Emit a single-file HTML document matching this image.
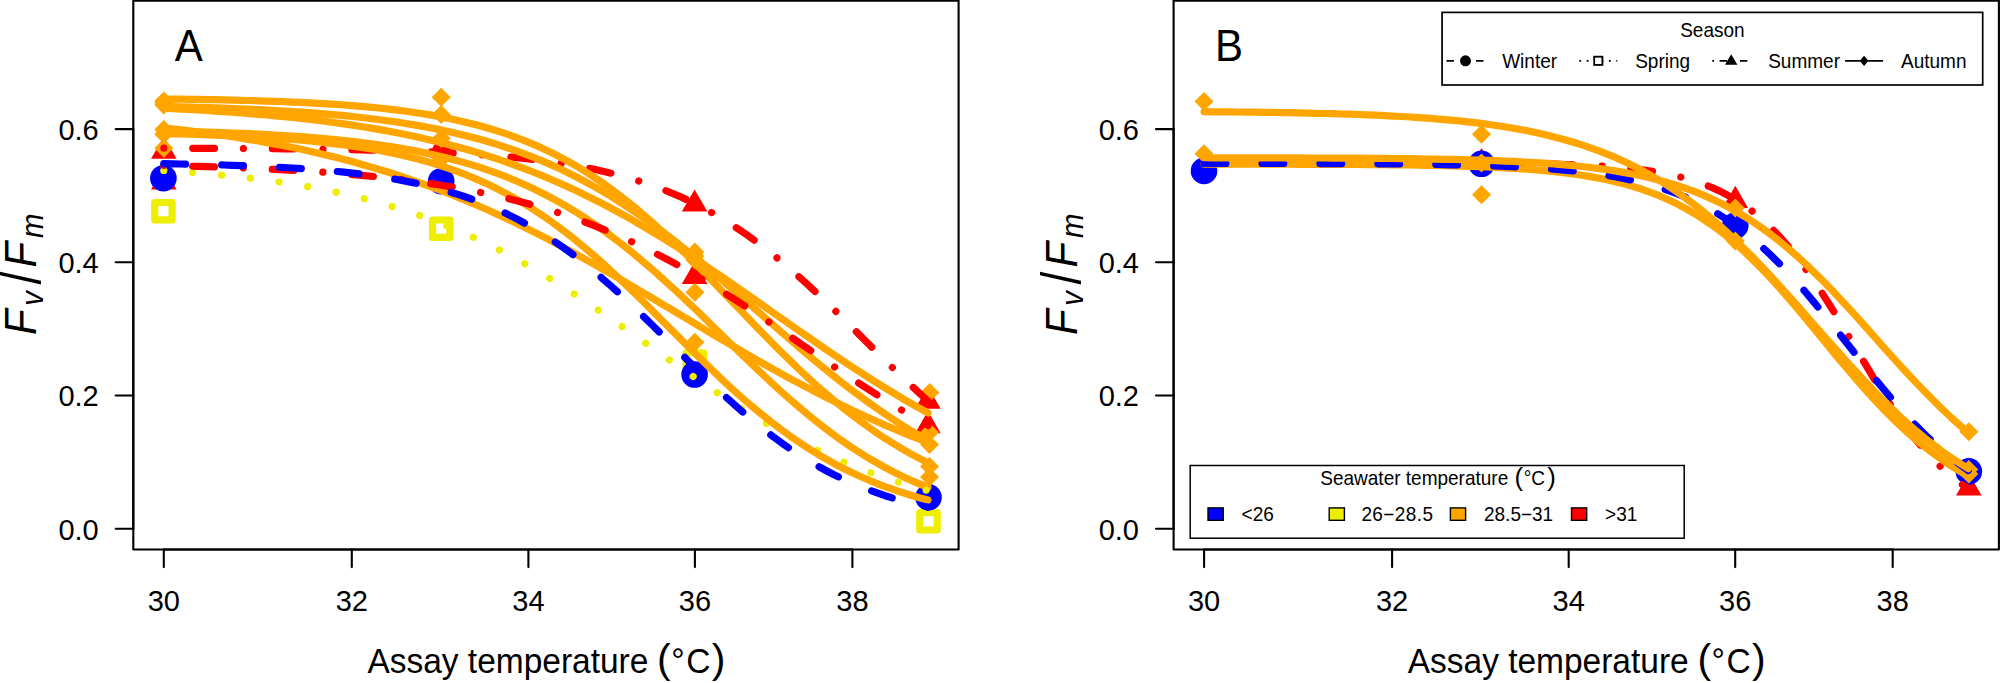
<!DOCTYPE html>
<html><head><meta charset="utf-8"><title>Fv/Fm thermal performance</title>
<style>html,body{margin:0;padding:0;background:#fff;}body{width:2000px;height:683px;overflow:hidden;}svg{display:block;}text{font-family:"Liberation Sans",sans-serif;fill:#000;}</style></head><body>
<svg width="2000" height="683" viewBox="0 0 2000 683">
<rect x="0" y="0" width="2000" height="683" fill="#fff"/>
<g id="panelA">
<g stroke="#000" stroke-width="2.1" fill="none" stroke-linecap="round">
<rect x="133.3" y="0.6" width="825.3" height="548.9" stroke-linejoin="round"/>
<path d="M163.8,549.5 L852.4,549.5"/>
<path d="M163.8,549.5 v17.6"/>
<path d="M351.8,549.5 v17.6"/>
<path d="M528.4,549.5 v17.6"/>
<path d="M694.9,549.5 v17.6"/>
<path d="M852.4,549.5 v17.6"/>
<path d="M133.3,528.7 L133.3,129.1"/>
<path d="M133.3,528.7 h-17.6"/>
<path d="M133.3,395.5 h-17.6"/>
<path d="M133.3,262.3 h-17.6"/>
<path d="M133.3,129.1 h-17.6"/>
</g>
<text transform="translate(163.8 611.2) scale(1 1.04)" font-size="29" text-anchor="middle">30</text>
<text transform="translate(351.8 611.2) scale(1 1.04)" font-size="29" text-anchor="middle">32</text>
<text transform="translate(528.4 611.2) scale(1 1.04)" font-size="29" text-anchor="middle">34</text>
<text transform="translate(694.9 611.2) scale(1 1.04)" font-size="29" text-anchor="middle">36</text>
<text transform="translate(852.4 611.2) scale(1 1.04)" font-size="29" text-anchor="middle">38</text>
<text transform="translate(98.7 539.6) scale(1 1.04)" font-size="29" text-anchor="end">0.0</text>
<text transform="translate(98.7 406.4) scale(1 1.04)" font-size="29" text-anchor="end">0.2</text>
<text transform="translate(98.7 273.2) scale(1 1.04)" font-size="29" text-anchor="end">0.4</text>
<text transform="translate(98.7 140.0) scale(1 1.04)" font-size="29" text-anchor="end">0.6</text>
<text transform="translate(174.8 61.2) scale(1 1.04)" font-size="42">A</text>
<text transform="translate(367.4 673.0) scale(1 1.04)" font-size="33.5">Assay temperature</text>
<text x="657.1" y="672.8" font-size="41">(</text>
<text transform="translate(671.3 673.0) scale(1 1.04)" font-size="33.5">°</text>
<text transform="translate(686.3 673.0) scale(1 1.04)" font-size="33.5">C</text>
<text x="711.7" y="672.8" font-size="41">)</text>
<g transform="translate(36.3,333.6) rotate(-90)" font-style="italic"><text transform="translate(-1.5 0.0) scale(1 1.04)" font-size="42">F</text><text transform="translate(27.8 6.6) scale(1 1.04)" font-size="29.4">v</text><text transform="translate(66.0 0.0) scale(1 1.04)" font-size="42">F</text><text transform="translate(95.6 6.6) scale(1 1.04)" font-size="29.4">m</text><text transform="translate(49.2 3.8) scale(1 1.2)" font-size="46" font-style="normal">/</text></g>
<polygon points="163.8,136.6 176.6,158.8 151.0,158.8" fill="#FF0000"/>
<polygon points="163.8,167.2 176.6,189.4 151.0,189.4" fill="#FF0000"/>
<polygon points="441.2,132.7 454.0,154.9 428.4,154.9" fill="#FF0000"/>
<polygon points="441.2,166.8 454.0,189.0 428.4,189.0" fill="#FF0000"/>
<polygon points="694.6,189.4 707.4,211.6 681.8,211.6" fill="#FF0000"/>
<polygon points="694.6,261.7 707.4,283.9 681.8,283.9" fill="#FF0000"/>
<polygon points="927.9,386.6 940.7,408.8 915.1,408.8" fill="#FF0000"/>
<polygon points="927.9,411.1 940.7,433.3 915.1,433.3" fill="#FF0000"/>
<rect x="154.7" y="202.5" width="17.4" height="17.4" fill="none" stroke="#EEEE00" stroke-width="7.2" stroke-linejoin="round"/>
<rect x="432.5" y="220.0" width="17.4" height="17.4" fill="none" stroke="#EEEE00" stroke-width="7.2" stroke-linejoin="round"/>
<rect x="686.2" y="352.9" width="17.4" height="17.4" fill="none" stroke="#EEEE00" stroke-width="7.2" stroke-linejoin="round"/>
<rect x="919.8" y="512.6" width="17.4" height="17.4" fill="none" stroke="#EEEE00" stroke-width="7.2" stroke-linejoin="round"/>
<circle cx="163.4" cy="178.2" r="13.3" fill="#0000FF"/>
<circle cx="441.2" cy="181.2" r="13.3" fill="#0000FF"/>
<circle cx="694.6" cy="374.5" r="13.3" fill="#0000FF"/>
<circle cx="928.5" cy="497.3" r="13.3" fill="#0000FF"/>
<polygon points="154.3,101.1 163.8,91.6 173.3,101.1 163.8,110.6" fill="#FFA500"/>
<polygon points="154.3,104.9 163.8,95.4 173.3,104.9 163.8,114.4" fill="#FFA500"/>
<polygon points="154.3,103.0 163.8,93.5 173.3,103.0 163.8,112.5" fill="#FFA500"/>
<polygon points="154.3,129.6 163.8,120.1 173.3,129.6 163.8,139.1" fill="#FFA500"/>
<polygon points="154.3,134.3 163.8,124.8 173.3,134.3 163.8,143.8" fill="#FFA500"/>
<polygon points="154.3,148.3 163.8,138.8 173.3,148.3 163.8,157.8" fill="#FFA500"/>
<polygon points="431.7,97.2 441.2,87.7 450.7,97.2 441.2,106.7" fill="#FFA500"/>
<polygon points="431.7,114.4 441.2,104.9 450.7,114.4 441.2,123.9" fill="#FFA500"/>
<polygon points="431.7,138.5 441.2,129.0 450.7,138.5 441.2,148.0" fill="#FFA500"/>
<polygon points="431.7,159.0 441.2,149.5 450.7,159.0 441.2,168.5" fill="#FFA500"/>
<polygon points="685.4,252.0 694.9,242.5 704.4,252.0 694.9,261.5" fill="#FFA500"/>
<polygon points="685.4,260.0 694.9,250.5 704.4,260.0 694.9,269.5" fill="#FFA500"/>
<polygon points="685.4,292.2 694.9,282.7 704.4,292.2 694.9,301.7" fill="#FFA500"/>
<polygon points="685.4,342.3 694.9,332.8 704.4,342.3 694.9,351.8" fill="#FFA500"/>
<polygon points="685.4,256.0 694.9,246.5 704.4,256.0 694.9,265.5" fill="#FFA500"/>
<polygon points="920.3,392.6 929.8,383.1 939.3,392.6 929.8,402.1" fill="#FFA500"/>
<polygon points="920.0,432.2 929.5,422.7 939.0,432.2 929.5,441.7" fill="#FFA500"/>
<polygon points="920.0,444.6 929.5,435.1 939.0,444.6 929.5,454.1" fill="#FFA500"/>
<polygon points="920.0,466.6 929.5,457.1 939.0,466.6 929.5,476.1" fill="#FFA500"/>
<polygon points="920.0,477.1 929.5,467.6 939.0,477.1 929.5,486.6" fill="#FFA500"/>
<path d="M163.8,148.2 L172.4,148.2 L181.0,148.2 L189.6,148.3 L198.1,148.3 L206.7,148.3 L215.3,148.4 L223.9,148.4 L232.5,148.5 L241.1,148.5 L249.7,148.6 L258.2,148.6 L266.8,148.7 L275.4,148.7 L284.0,148.8 L292.6,148.9 L301.2,149.0 L309.8,149.1 L318.3,149.2 L326.9,149.3 L335.5,149.4 L344.1,149.6 L352.7,149.7 L361.3,149.9 L369.8,150.1 L378.4,150.3 L387.0,150.5 L395.6,150.7 L404.2,151.0 L412.8,151.3 L421.4,151.6 L429.9,151.9 L438.5,152.3 L447.1,152.7 L455.7,153.2 L464.3,153.7 L472.9,154.2 L481.5,154.8 L490.0,155.4 L498.6,156.1 L507.2,156.8 L515.8,157.6 L524.4,158.5 L533.0,159.5 L541.6,160.6 L550.1,161.7 L558.7,163.0 L567.3,164.3 L575.9,165.8 L584.5,167.4 L593.1,169.1 L601.7,171.0 L610.2,173.0 L618.8,175.2 L627.4,177.6 L636.0,180.1 L644.6,182.9 L653.2,185.9 L661.8,189.0 L670.3,192.5 L678.9,196.1 L687.5,200.1 L696.1,204.3 L704.7,208.7 L713.3,213.5 L721.9,218.5 L730.4,223.8 L739.0,229.5 L747.6,235.4 L756.2,241.6 L764.8,248.1 L773.4,254.9 L781.9,262.0 L790.5,269.3 L799.1,276.9 L807.7,284.7 L816.3,292.7 L824.9,300.8 L833.5,309.1 L842.0,317.6 L850.6,326.1 L859.2,334.6 L867.8,343.2 L876.4,351.8 L885.0,360.3 L893.6,368.7 L902.1,377.0 L910.7,385.1 L919.3,393.1 L927.9,400.9" fill="none" stroke="#FF0000" stroke-width="7.2" stroke-linecap="round" stroke-linejoin="round" stroke-dasharray="0.01 28.91 21.76 28.92"/>
<path d="M163.8,99.0 L172.4,99.1 L181.0,99.2 L189.6,99.3 L198.1,99.4 L206.7,99.6 L215.3,99.7 L223.9,99.9 L232.5,100.1 L241.1,100.3 L249.7,100.5 L258.3,100.8 L266.8,101.1 L275.4,101.4 L284.0,101.7 L292.6,102.1 L301.2,102.4 L309.8,102.9 L318.4,103.3 L326.9,103.8 L335.5,104.4 L344.1,105.0 L352.7,105.7 L361.3,106.4 L369.9,107.2 L378.5,108.0 L387.0,108.9 L395.6,109.9 L404.2,111.0 L412.8,112.2 L421.4,113.5 L430.0,114.9 L438.6,116.5 L447.2,118.1 L455.7,119.9 L464.3,121.9 L472.9,124.0 L481.5,126.3 L490.1,128.7 L498.7,131.4 L507.3,134.2 L515.8,137.3 L524.4,140.6 L533.0,144.1 L541.6,147.9 L550.2,152.0 L558.8,156.3 L567.4,160.9 L576.0,165.8 L584.5,171.0 L593.1,176.5 L601.7,182.3 L610.3,188.4 L618.9,194.8 L627.5,201.5 L636.1,208.4 L644.6,215.7 L653.2,223.3 L661.8,231.1 L670.4,239.1 L679.0,247.3 L687.6,255.8 L696.2,264.4 L704.8,273.1 L713.3,282.0 L721.9,290.9 L730.5,299.9 L739.1,308.8 L747.7,317.8 L756.3,326.7 L764.9,335.5 L773.4,344.2 L782.0,352.8 L790.6,361.2 L799.2,369.5 L807.8,377.5 L816.4,385.3 L825.0,392.8 L833.5,400.1 L842.1,407.2 L850.7,414.0 L859.3,420.5 L867.9,426.7 L876.5,432.7 L885.1,438.4 L893.7,443.8 L902.2,448.9 L910.8,453.8 L919.4,458.4 L928.0,462.8" fill="none" stroke="#FFA500" stroke-width="7.2" stroke-linecap="round" stroke-linejoin="round"/>
<path d="M163.8,106.5 L172.4,106.7 L181.0,106.9 L189.6,107.1 L198.1,107.3 L206.7,107.6 L215.3,107.9 L223.9,108.2 L232.5,108.5 L241.1,108.8 L249.7,109.2 L258.3,109.6 L266.8,110.0 L275.4,110.5 L284.0,111.0 L292.6,111.5 L301.2,112.1 L309.8,112.7 L318.4,113.4 L326.9,114.1 L335.5,114.8 L344.1,115.7 L352.7,116.5 L361.3,117.5 L369.9,118.5 L378.5,119.5 L387.0,120.7 L395.6,121.9 L404.2,123.2 L412.8,124.6 L421.4,126.1 L430.0,127.7 L438.6,129.4 L447.2,131.3 L455.7,133.2 L464.3,135.3 L472.9,137.5 L481.5,139.8 L490.1,142.3 L498.7,144.9 L507.3,147.8 L515.8,150.7 L524.4,153.9 L533.0,157.2 L541.6,160.7 L550.2,164.4 L558.8,168.3 L567.4,172.4 L576.0,176.7 L584.5,181.2 L593.1,185.9 L601.7,190.9 L610.3,196.0 L618.9,201.4 L627.5,206.9 L636.1,212.7 L644.6,218.7 L653.2,224.8 L661.8,231.2 L670.4,237.7 L679.0,244.4 L687.6,251.3 L696.2,258.3 L704.8,265.5 L713.3,272.7 L721.9,280.0 L730.5,287.5 L739.1,295.0 L747.7,302.5 L756.3,310.0 L764.9,317.6 L773.4,325.1 L782.0,332.6 L790.6,340.1 L799.2,347.4 L807.8,354.7 L816.4,361.9 L825.0,369.0 L833.5,375.9 L842.1,382.7 L850.7,389.3 L859.3,395.7 L867.9,402.0 L876.5,408.1 L885.1,414.0 L893.7,419.7 L902.2,425.2 L910.8,430.5 L919.4,435.6 L928.0,440.5" fill="none" stroke="#FFA500" stroke-width="7.2" stroke-linecap="round" stroke-linejoin="round"/>
<path d="M163.8,108.2 L172.4,108.7 L181.0,109.1 L189.6,109.5 L198.1,110.0 L206.7,110.5 L215.3,111.1 L223.9,111.6 L232.5,112.2 L241.1,112.9 L249.7,113.6 L258.3,114.3 L266.8,115.0 L275.4,115.8 L284.0,116.6 L292.6,117.5 L301.2,118.4 L309.8,119.4 L318.4,120.4 L326.9,121.5 L335.5,122.7 L344.1,123.9 L352.7,125.1 L361.3,126.5 L369.9,127.9 L378.5,129.4 L387.0,130.9 L395.6,132.5 L404.2,134.2 L412.8,136.0 L421.4,137.9 L430.0,139.9 L438.6,142.0 L447.2,144.2 L455.7,146.4 L464.3,148.8 L472.9,151.3 L481.5,153.9 L490.1,156.6 L498.7,159.4 L507.3,162.4 L515.8,165.5 L524.4,168.7 L533.0,172.0 L541.6,175.4 L550.2,179.0 L558.8,182.7 L567.4,186.6 L576.0,190.6 L584.5,194.7 L593.1,198.9 L601.7,203.3 L610.3,207.8 L618.9,212.5 L627.5,217.2 L636.1,222.1 L644.6,227.1 L653.2,232.3 L661.8,237.5 L670.4,242.9 L679.0,248.3 L687.6,253.9 L696.2,259.5 L704.8,265.2 L713.3,271.0 L721.9,276.8 L730.5,282.7 L739.1,288.7 L747.7,294.7 L756.3,300.7 L764.9,306.7 L773.4,312.8 L782.0,318.8 L790.6,324.9 L799.2,330.9 L807.8,336.8 L816.4,342.8 L825.0,348.7 L833.5,354.5 L842.1,360.3 L850.7,366.0 L859.3,371.6 L867.9,377.1 L876.5,382.6 L885.1,387.9 L893.7,393.1 L902.2,398.3 L910.8,403.3 L919.4,408.2 L928.0,412.9" fill="none" stroke="#FFA500" stroke-width="7.2" stroke-linecap="round" stroke-linejoin="round"/>
<path d="M163.8,131.0 L172.4,131.2 L181.0,131.4 L189.6,131.6 L198.1,131.9 L206.7,132.1 L215.3,132.4 L223.9,132.7 L232.5,133.0 L241.1,133.4 L249.7,133.7 L258.3,134.1 L266.8,134.6 L275.4,135.1 L284.0,135.6 L292.6,136.1 L301.2,136.7 L309.8,137.4 L318.4,138.1 L326.9,138.8 L335.5,139.6 L344.1,140.5 L352.7,141.4 L361.3,142.5 L369.9,143.6 L378.5,144.7 L387.0,146.0 L395.6,147.4 L404.2,148.8 L412.8,150.4 L421.4,152.1 L430.0,153.9 L438.6,155.9 L447.2,158.0 L455.7,160.2 L464.3,162.6 L472.9,165.1 L481.5,167.9 L490.1,170.8 L498.7,173.9 L507.3,177.2 L515.8,180.8 L524.4,184.5 L533.0,188.5 L541.6,192.7 L550.2,197.2 L558.8,201.9 L567.4,206.8 L576.0,212.0 L584.5,217.5 L593.1,223.2 L601.7,229.2 L610.3,235.5 L618.9,242.0 L627.5,248.7 L636.1,255.7 L644.6,262.9 L653.2,270.3 L661.8,278.0 L670.4,285.8 L679.0,293.7 L687.6,301.8 L696.2,310.0 L704.8,318.3 L713.3,326.7 L721.9,335.1 L730.5,343.5 L739.1,351.8 L747.7,360.1 L756.3,368.4 L764.9,376.5 L773.4,384.4 L782.0,392.3 L790.6,399.9 L799.2,407.3 L807.8,414.5 L816.4,421.5 L825.0,428.2 L833.5,434.6 L842.1,440.8 L850.7,446.7 L859.3,452.3 L867.9,457.7 L876.5,462.7 L885.1,467.5 L893.7,472.0 L902.2,476.2 L910.8,480.2 L919.4,483.9 L928.0,487.4" fill="none" stroke="#FFA500" stroke-width="7.2" stroke-linecap="round" stroke-linejoin="round"/>
<path d="M163.8,128.0 L172.4,128.9 L181.0,129.9 L189.6,130.9 L198.1,132.0 L206.7,133.1 L215.3,134.3 L223.9,135.5 L232.5,136.8 L241.1,138.2 L249.7,139.6 L258.3,141.0 L266.8,142.6 L275.4,144.1 L284.0,145.8 L292.6,147.5 L301.2,149.3 L309.8,151.2 L318.4,153.2 L326.9,155.2 L335.5,157.3 L344.1,159.5 L352.7,161.8 L361.3,164.2 L369.9,166.6 L378.5,169.2 L387.0,171.8 L395.6,174.5 L404.2,177.4 L412.8,180.3 L421.4,183.3 L430.0,186.4 L438.6,189.7 L447.2,193.0 L455.7,196.4 L464.3,199.9 L472.9,203.5 L481.5,207.2 L490.1,211.0 L498.7,215.0 L507.3,219.0 L515.8,223.1 L524.4,227.2 L533.0,231.5 L541.6,235.9 L550.2,240.3 L558.8,244.9 L567.4,249.5 L576.0,254.1 L584.5,258.9 L593.1,263.7 L601.7,268.5 L610.3,273.5 L618.9,278.4 L627.5,283.4 L636.1,288.5 L644.6,293.6 L653.2,298.7 L661.8,303.8 L670.4,308.9 L679.0,314.1 L687.6,319.2 L696.2,324.3 L704.8,329.5 L713.3,334.6 L721.9,339.7 L730.5,344.7 L739.1,349.7 L747.7,354.7 L756.3,359.6 L764.9,364.5 L773.4,369.3 L782.0,374.1 L790.6,378.8 L799.2,383.4 L807.8,387.9 L816.4,392.4 L825.0,396.8 L833.5,401.1 L842.1,405.3 L850.7,409.5 L859.3,413.5 L867.9,417.5 L876.5,421.3 L885.1,425.1 L893.7,428.8 L902.2,432.4 L910.8,435.9 L919.4,439.2 L928.0,442.5" fill="none" stroke="#FFA500" stroke-width="7.2" stroke-linecap="round" stroke-linejoin="round"/>
<path d="M163.8,170.5 L172.4,171.0 L181.0,171.7 L189.6,172.3 L198.1,173.0 L206.7,173.7 L215.3,174.5 L223.9,175.3 L232.5,176.2 L241.1,177.1 L249.7,178.1 L258.3,179.2 L266.8,180.3 L275.4,181.5 L284.0,182.7 L292.6,184.1 L301.2,185.5 L309.8,187.0 L318.4,188.6 L326.9,190.2 L335.5,192.0 L344.1,193.9 L352.7,195.9 L361.3,198.0 L369.9,200.2 L378.5,202.5 L387.0,205.0 L395.6,207.5 L404.2,210.2 L412.8,213.1 L421.4,216.1 L430.0,219.2 L438.6,222.5 L447.2,225.9 L455.7,229.5 L464.3,233.2 L472.9,237.1 L481.5,241.1 L490.1,245.3 L498.7,249.6 L507.3,254.1 L515.8,258.8 L524.4,263.6 L533.0,268.5 L541.6,273.6 L550.2,278.8 L558.8,284.2 L567.4,289.6 L576.0,295.2 L584.5,300.9 L593.1,306.6 L601.7,312.5 L610.3,318.4 L618.9,324.3 L627.5,330.4 L636.1,336.4 L644.6,342.5 L653.2,348.6 L661.8,354.6 L670.4,360.7 L679.0,366.7 L687.6,372.7 L696.2,378.6 L704.8,384.4 L713.3,390.2 L721.9,395.8 L730.5,401.4 L739.1,406.9 L747.7,412.2 L756.3,417.4 L764.9,422.5 L773.4,427.4 L782.0,432.2 L790.6,436.8 L799.2,441.3 L807.8,445.6 L816.4,449.8 L825.0,453.8 L833.5,457.7 L842.1,461.4 L850.7,465.0 L859.3,468.4 L867.9,471.7 L876.5,474.8 L885.1,477.8 L893.7,480.6 L902.2,483.3 L910.8,485.9 L919.4,488.3 L928.0,490.7" fill="none" stroke="#EEEE00" stroke-width="7.2" stroke-linecap="round" stroke-linejoin="round" stroke-dasharray="0.01 28.95"/>
<path d="M163.8,133.6 L172.4,133.8 L181.0,134.0 L189.6,134.2 L198.1,134.5 L206.7,134.8 L215.3,135.1 L223.9,135.4 L232.5,135.8 L241.1,136.2 L249.7,136.6 L258.3,137.1 L266.8,137.6 L275.4,138.2 L284.0,138.8 L292.6,139.5 L301.2,140.2 L309.8,141.0 L318.4,141.8 L326.9,142.8 L335.5,143.8 L344.1,144.9 L352.7,146.1 L361.3,147.4 L369.9,148.8 L378.5,150.3 L387.0,151.9 L395.6,153.7 L404.2,155.7 L412.8,157.8 L421.4,160.0 L430.0,162.4 L438.6,165.1 L447.2,167.9 L455.7,170.9 L464.3,174.2 L472.9,177.6 L481.5,181.4 L490.1,185.3 L498.7,189.6 L507.3,194.1 L515.8,198.8 L524.4,203.9 L533.0,209.3 L541.6,214.9 L550.2,220.9 L558.8,227.1 L567.4,233.6 L576.0,240.4 L584.5,247.5 L593.1,254.8 L601.7,262.3 L610.3,270.1 L618.9,278.1 L627.5,286.3 L636.1,294.6 L644.6,303.0 L653.2,311.6 L661.8,320.2 L670.4,328.8 L679.0,337.4 L687.6,346.0 L696.2,354.5 L704.8,362.9 L713.3,371.2 L721.9,379.4 L730.5,387.3 L739.1,395.1 L747.7,402.6 L756.3,409.9 L764.9,416.9 L773.4,423.7 L782.0,430.2 L790.6,436.4 L799.2,442.3 L807.8,447.9 L816.4,453.3 L825.0,458.4 L833.5,463.2 L842.1,467.7 L850.7,472.0 L859.3,476.0 L867.9,479.7 L876.5,483.3 L885.1,486.6 L893.7,489.6 L902.2,492.5 L910.8,495.2 L919.4,497.7 L928.0,500.0" fill="none" stroke="#FFA500" stroke-width="7.2" stroke-linecap="round" stroke-linejoin="round"/>
<path d="M163.8,165.5 L172.4,165.7 L181.0,165.9 L189.6,166.2 L198.1,166.4 L206.7,166.7 L215.3,166.9 L223.9,167.2 L232.5,167.5 L241.1,167.8 L249.7,168.2 L258.3,168.6 L266.8,169.0 L275.4,169.4 L284.0,169.8 L292.6,170.3 L301.2,170.8 L309.8,171.3 L318.4,171.9 L326.9,172.5 L335.5,173.2 L344.1,173.8 L352.7,174.6 L361.3,175.3 L369.9,176.2 L378.5,177.0 L387.0,178.0 L395.6,178.9 L404.2,180.0 L412.8,181.1 L421.4,182.3 L430.0,183.5 L438.6,184.8 L447.2,186.2 L455.7,187.6 L464.3,189.2 L472.9,190.8 L481.5,192.6 L490.1,194.4 L498.7,196.3 L507.3,198.3 L515.8,200.5 L524.4,202.7 L533.0,205.1 L541.6,207.6 L550.2,210.2 L558.8,212.9 L567.4,215.8 L576.0,218.8 L584.5,221.9 L593.1,225.2 L601.7,228.6 L610.3,232.2 L618.9,235.9 L627.5,239.7 L636.1,243.7 L644.6,247.8 L653.2,252.1 L661.8,256.6 L670.4,261.1 L679.0,265.8 L687.6,270.7 L696.2,275.7 L704.8,280.8 L713.3,286.0 L721.9,291.3 L730.5,296.7 L739.1,302.2 L747.7,307.9 L756.3,313.5 L764.9,319.3 L773.4,325.1 L782.0,330.9 L790.6,336.8 L799.2,342.7 L807.8,348.6 L816.4,354.5 L825.0,360.3 L833.5,366.2 L842.1,372.0 L850.7,377.7 L859.3,383.4 L867.9,389.0 L876.5,394.5 L885.1,400.0 L893.7,405.3 L902.2,410.5 L910.8,415.6 L919.4,420.6 L928.0,425.4" fill="none" stroke="#FF0000" stroke-width="7.2" stroke-linecap="round" stroke-linejoin="round" stroke-dasharray="0.01 28.91 21.76 28.92"/>
<path d="M163.8,163.7 L172.4,163.8 L181.0,164.0 L189.6,164.2 L198.1,164.3 L206.7,164.5 L215.3,164.8 L223.9,165.0 L232.5,165.3 L241.1,165.6 L249.7,165.9 L258.3,166.2 L266.8,166.6 L275.4,167.0 L284.0,167.5 L292.6,168.0 L301.2,168.6 L309.8,169.2 L318.4,169.8 L326.9,170.5 L335.5,171.3 L344.1,172.2 L352.7,173.1 L361.3,174.2 L369.9,175.3 L378.5,176.5 L387.0,177.9 L395.6,179.3 L404.2,180.9 L412.8,182.6 L421.4,184.5 L430.0,186.6 L438.6,188.8 L447.2,191.2 L455.7,193.7 L464.3,196.5 L472.9,199.6 L481.5,202.8 L490.1,206.3 L498.7,210.1 L507.3,214.1 L515.8,218.4 L524.4,223.0 L533.0,227.9 L541.6,233.1 L550.2,238.6 L558.8,244.4 L567.4,250.5 L576.0,256.9 L584.5,263.6 L593.1,270.6 L601.7,277.9 L610.3,285.4 L618.9,293.1 L627.5,301.1 L636.1,309.3 L644.6,317.6 L653.2,326.0 L661.8,334.5 L670.4,343.1 L679.0,351.6 L687.6,360.2 L696.2,368.6 L704.8,377.0 L713.3,385.3 L721.9,393.3 L730.5,401.2 L739.1,408.9 L747.7,416.3 L756.3,423.4 L764.9,430.3 L773.4,436.9 L782.0,443.2 L790.6,449.2 L799.2,454.8 L807.8,460.2 L816.4,465.3 L825.0,470.0 L833.5,474.5 L842.1,478.7 L850.7,482.6 L859.3,486.2 L867.9,489.6 L876.5,492.7 L885.1,495.7 L893.7,498.4 L902.2,500.9 L910.8,503.2 L919.4,505.3 L928.0,507.3" fill="none" stroke="#0000FF" stroke-width="7.2" stroke-linecap="round" stroke-linejoin="round" stroke-dasharray="21.76 36.16"/>
</g>
<g id="panelB">
<g stroke="#000" stroke-width="2.1" fill="none" stroke-linecap="round">
<rect x="1173.6" y="0.6" width="825.3" height="548.9" stroke-linejoin="round"/>
<path d="M1204.1,549.5 L1892.7,549.5"/>
<path d="M1204.1,549.5 v17.6"/>
<path d="M1392.1,549.5 v17.6"/>
<path d="M1568.7,549.5 v17.6"/>
<path d="M1735.2,549.5 v17.6"/>
<path d="M1892.7,549.5 v17.6"/>
<path d="M1173.6,528.7 L1173.6,129.1"/>
<path d="M1173.6,528.7 h-17.6"/>
<path d="M1173.6,395.5 h-17.6"/>
<path d="M1173.6,262.3 h-17.6"/>
<path d="M1173.6,129.1 h-17.6"/>
</g>
<text transform="translate(1204.1 611.2) scale(1 1.04)" font-size="29" text-anchor="middle">30</text>
<text transform="translate(1392.1 611.2) scale(1 1.04)" font-size="29" text-anchor="middle">32</text>
<text transform="translate(1568.7 611.2) scale(1 1.04)" font-size="29" text-anchor="middle">34</text>
<text transform="translate(1735.2 611.2) scale(1 1.04)" font-size="29" text-anchor="middle">36</text>
<text transform="translate(1892.7 611.2) scale(1 1.04)" font-size="29" text-anchor="middle">38</text>
<text transform="translate(1139.0 539.6) scale(1 1.04)" font-size="29" text-anchor="end">0.0</text>
<text transform="translate(1139.0 406.4) scale(1 1.04)" font-size="29" text-anchor="end">0.2</text>
<text transform="translate(1139.0 273.2) scale(1 1.04)" font-size="29" text-anchor="end">0.4</text>
<text transform="translate(1139.0 140.0) scale(1 1.04)" font-size="29" text-anchor="end">0.6</text>
<text transform="translate(1215.1 61.2) scale(1 1.04)" font-size="42">B</text>
<text transform="translate(1407.7 673.0) scale(1 1.04)" font-size="33.5">Assay temperature</text>
<text x="1697.4" y="672.8" font-size="41">(</text>
<text transform="translate(1711.6 673.0) scale(1 1.04)" font-size="33.5">°</text>
<text transform="translate(1726.6 673.0) scale(1 1.04)" font-size="33.5">C</text>
<text x="1752.0" y="672.8" font-size="41">)</text>
<g transform="translate(1076.6,333.6) rotate(-90)" font-style="italic"><text transform="translate(-1.5 0.0) scale(1 1.04)" font-size="42">F</text><text transform="translate(27.8 6.6) scale(1 1.04)" font-size="29.4">v</text><text transform="translate(66.0 0.0) scale(1 1.04)" font-size="42">F</text><text transform="translate(95.6 6.6) scale(1 1.04)" font-size="29.4">m</text><text transform="translate(49.2 3.8) scale(1 1.2)" font-size="46" font-style="normal">/</text></g>
<polygon points="1204.0,150.2 1216.8,172.4 1191.2,172.4" fill="#FF0000"/>
<polygon points="1481.5,147.9 1494.3,170.1 1468.7,170.1" fill="#FF0000"/>
<polygon points="1735.3,185.7 1748.1,207.9 1722.5,207.9" fill="#FF0000"/>
<polygon points="1968.8,473.4 1981.6,495.6 1956.0,495.6" fill="#FF0000"/>
<circle cx="1204.0" cy="170.9" r="13.3" fill="#0000FF"/>
<circle cx="1481.5" cy="163.8" r="13.3" fill="#0000FF"/>
<circle cx="1735.3" cy="225.6" r="13.3" fill="#0000FF"/>
<circle cx="1968.8" cy="471.4" r="13.3" fill="#0000FF"/>
<polygon points="1194.5,101.5 1204.0,92.0 1213.5,101.5 1204.0,111.0" fill="#FFA500"/>
<polygon points="1194.5,153.8 1204.0,144.3 1213.5,153.8 1204.0,163.3" fill="#FFA500"/>
<polygon points="1472.0,134.3 1481.5,124.8 1491.0,134.3 1481.5,143.8" fill="#FFA500"/>
<polygon points="1472.0,163.0 1481.5,153.5 1491.0,163.0 1481.5,172.5" fill="#FFA500"/>
<polygon points="1472.0,194.8 1481.5,185.3 1491.0,194.8 1481.5,204.3" fill="#FFA500"/>
<polygon points="1725.8,208.0 1735.3,198.5 1744.8,208.0 1735.3,217.5" fill="#FFA500"/>
<polygon points="1725.8,241.0 1735.3,231.5 1744.8,241.0 1735.3,250.5" fill="#FFA500"/>
<polygon points="1959.3,431.8 1968.8,422.3 1978.3,431.8 1968.8,441.3" fill="#FFA500"/>
<polygon points="1959.3,469.6 1968.8,460.1 1978.3,469.6 1968.8,479.1" fill="#FFA500"/>
<polygon points="1959.3,474.0 1968.8,464.5 1978.3,474.0 1968.8,483.5" fill="#FFA500"/>
<path d="M1204.1,162.7 L1212.7,162.7 L1221.3,162.7 L1229.9,162.7 L1238.4,162.7 L1247.0,162.7 L1255.6,162.7 L1264.2,162.7 L1272.8,162.7 L1281.4,162.7 L1290.0,162.7 L1298.6,162.7 L1307.1,162.7 L1315.7,162.8 L1324.3,162.8 L1332.9,162.8 L1341.5,162.8 L1350.1,162.8 L1358.7,162.8 L1367.2,162.8 L1375.8,162.8 L1384.4,162.8 L1393.0,162.8 L1401.6,162.8 L1410.2,162.8 L1418.8,162.9 L1427.3,162.9 L1435.9,162.9 L1444.5,162.9 L1453.1,163.0 L1461.7,163.0 L1470.3,163.0 L1478.9,163.1 L1487.5,163.2 L1496.0,163.2 L1504.6,163.3 L1513.2,163.4 L1521.8,163.5 L1530.4,163.7 L1539.0,163.8 L1547.6,164.0 L1556.1,164.2 L1564.7,164.5 L1573.3,164.8 L1581.9,165.1 L1590.5,165.6 L1599.1,166.0 L1607.7,166.6 L1616.3,167.2 L1624.8,168.0 L1633.4,168.9 L1642.0,169.9 L1650.6,171.1 L1659.2,172.5 L1667.8,174.2 L1676.4,176.0 L1684.9,178.2 L1693.5,180.8 L1702.1,183.7 L1710.7,187.0 L1719.3,190.9 L1727.9,195.3 L1736.5,200.3 L1745.1,205.9 L1753.6,212.3 L1762.2,219.5 L1770.8,227.5 L1779.4,236.4 L1788.0,246.1 L1796.6,256.8 L1805.2,268.2 L1813.7,280.5 L1822.3,293.4 L1830.9,307.0 L1839.5,321.0 L1848.1,335.4 L1856.7,349.8 L1865.3,364.2 L1873.8,378.4 L1882.4,392.2 L1891.0,405.5 L1899.6,418.0 L1908.2,429.9 L1916.8,440.8 L1925.4,451.0 L1934.0,460.2 L1942.5,468.6 L1951.1,476.1 L1959.7,482.8 L1968.3,488.8" fill="none" stroke="#FF0000" stroke-width="7.2" stroke-linecap="round" stroke-linejoin="round" stroke-dasharray="0.01 28.91 21.76 28.92"/>
<path d="M1204.1,164.1 L1212.7,164.1 L1221.3,164.1 L1229.9,164.1 L1238.4,164.1 L1247.0,164.2 L1255.6,164.2 L1264.2,164.2 L1272.8,164.2 L1281.4,164.2 L1290.0,164.2 L1298.6,164.3 L1307.1,164.3 L1315.7,164.3 L1324.3,164.3 L1332.9,164.4 L1341.5,164.4 L1350.1,164.5 L1358.7,164.5 L1367.2,164.6 L1375.8,164.7 L1384.4,164.7 L1393.0,164.8 L1401.6,164.9 L1410.2,165.0 L1418.8,165.2 L1427.3,165.3 L1435.9,165.5 L1444.5,165.6 L1453.1,165.9 L1461.7,166.1 L1470.3,166.4 L1478.9,166.7 L1487.5,167.0 L1496.0,167.4 L1504.6,167.8 L1513.2,168.3 L1521.8,168.8 L1530.4,169.5 L1539.0,170.2 L1547.6,170.9 L1556.1,171.8 L1564.7,172.8 L1573.3,173.9 L1581.9,175.2 L1590.5,176.6 L1599.1,178.2 L1607.7,180.0 L1616.3,181.9 L1624.8,184.1 L1633.4,186.6 L1642.0,189.3 L1650.6,192.4 L1659.2,195.7 L1667.8,199.5 L1676.4,203.6 L1684.9,208.1 L1693.5,213.0 L1702.1,218.4 L1710.7,224.2 L1719.3,230.5 L1727.9,237.3 L1736.5,244.6 L1745.1,252.4 L1753.6,260.6 L1762.2,269.3 L1770.8,278.4 L1779.4,287.9 L1788.0,297.6 L1796.6,307.7 L1805.2,317.9 L1813.7,328.3 L1822.3,338.8 L1830.9,349.2 L1839.5,359.6 L1848.1,369.8 L1856.7,379.8 L1865.3,389.6 L1873.8,399.0 L1882.4,408.1 L1891.0,416.8 L1899.6,425.1 L1908.2,433.0 L1916.8,440.5 L1925.4,447.5 L1934.0,454.0 L1942.5,460.2 L1951.1,465.9 L1959.7,471.2 L1968.3,476.1" fill="none" stroke="#FFA500" stroke-width="7.2" stroke-linecap="round" stroke-linejoin="round"/>
<path d="M1204.1,163.4 L1212.7,163.4 L1221.3,163.4 L1229.9,163.4 L1238.4,163.4 L1247.0,163.4 L1255.6,163.4 L1264.2,163.4 L1272.8,163.5 L1281.4,163.5 L1290.0,163.5 L1298.6,163.5 L1307.1,163.5 L1315.7,163.5 L1324.3,163.6 L1332.9,163.6 L1341.5,163.6 L1350.1,163.7 L1358.7,163.7 L1367.2,163.8 L1375.8,163.8 L1384.4,163.9 L1393.0,164.0 L1401.6,164.0 L1410.2,164.1 L1418.8,164.2 L1427.3,164.3 L1435.9,164.5 L1444.5,164.6 L1453.1,164.8 L1461.7,165.0 L1470.3,165.2 L1478.9,165.4 L1487.5,165.7 L1496.0,166.0 L1504.6,166.3 L1513.2,166.7 L1521.8,167.1 L1530.4,167.6 L1539.0,168.1 L1547.6,168.7 L1556.1,169.4 L1564.7,170.1 L1573.3,171.0 L1581.9,171.9 L1590.5,173.0 L1599.1,174.2 L1607.7,175.5 L1616.3,177.0 L1624.8,178.7 L1633.4,180.5 L1642.0,182.6 L1650.6,184.9 L1659.2,187.5 L1667.8,190.3 L1676.4,193.5 L1684.9,196.9 L1693.5,200.8 L1702.1,205.0 L1710.7,209.6 L1719.3,214.7 L1727.9,220.2 L1736.5,226.2 L1745.1,232.7 L1753.6,239.7 L1762.2,247.1 L1770.8,255.1 L1779.4,263.6 L1788.0,272.5 L1796.6,281.9 L1805.2,291.7 L1813.7,301.9 L1822.3,312.3 L1830.9,323.0 L1839.5,333.8 L1848.1,344.7 L1856.7,355.7 L1865.3,366.5 L1873.8,377.3 L1882.4,387.8 L1891.0,398.0 L1899.6,407.8 L1908.2,417.3 L1916.8,426.4 L1925.4,435.0 L1934.0,443.1 L1942.5,450.7 L1951.1,457.8 L1959.7,464.4 L1968.3,470.5" fill="none" stroke="#0000FF" stroke-width="7.2" stroke-linecap="round" stroke-linejoin="round" stroke-dasharray="21.76 36.16"/>
<path d="M1204.1,111.7 L1212.7,111.8 L1221.3,111.8 L1229.9,111.9 L1238.4,112.0 L1247.0,112.1 L1255.6,112.2 L1264.2,112.3 L1272.8,112.4 L1281.4,112.6 L1290.0,112.7 L1298.6,112.9 L1307.1,113.1 L1315.7,113.3 L1324.3,113.5 L1332.9,113.7 L1341.5,114.0 L1350.1,114.2 L1358.7,114.5 L1367.2,114.9 L1375.8,115.2 L1384.4,115.6 L1393.0,116.1 L1401.6,116.5 L1410.2,117.0 L1418.8,117.6 L1427.3,118.2 L1435.9,118.9 L1444.5,119.6 L1453.1,120.4 L1461.7,121.2 L1470.3,122.2 L1478.9,123.2 L1487.5,124.3 L1496.0,125.5 L1504.6,126.8 L1513.2,128.2 L1521.8,129.8 L1530.4,131.4 L1539.0,133.3 L1547.6,135.2 L1556.1,137.4 L1564.7,139.7 L1573.3,142.2 L1581.9,144.9 L1590.5,147.8 L1599.1,150.9 L1607.7,154.3 L1616.3,157.9 L1624.8,161.8 L1633.4,166.0 L1642.0,170.5 L1650.6,175.3 L1659.2,180.3 L1667.8,185.7 L1676.4,191.5 L1684.9,197.6 L1693.5,204.0 L1702.1,210.7 L1710.7,217.8 L1719.3,225.3 L1727.9,233.0 L1736.5,241.1 L1745.1,249.5 L1753.6,258.1 L1762.2,267.1 L1770.8,276.2 L1779.4,285.6 L1788.0,295.1 L1796.6,304.7 L1805.2,314.5 L1813.7,324.3 L1822.3,334.1 L1830.9,343.8 L1839.5,353.5 L1848.1,363.1 L1856.7,372.5 L1865.3,381.8 L1873.8,390.8 L1882.4,399.5 L1891.0,407.9 L1899.6,416.1 L1908.2,423.9 L1916.8,431.4 L1925.4,438.5 L1934.0,445.2 L1942.5,451.6 L1951.1,457.6 L1959.7,463.3 L1968.3,468.6" fill="none" stroke="#FFA500" stroke-width="7.2" stroke-linecap="round" stroke-linejoin="round"/>
<path d="M1204.1,157.7 L1212.7,157.8 L1221.3,157.8 L1229.9,157.8 L1238.4,157.8 L1247.0,157.8 L1255.6,157.8 L1264.2,157.8 L1272.8,157.9 L1281.4,157.9 L1290.0,157.9 L1298.6,157.9 L1307.1,158.0 L1315.7,158.0 L1324.3,158.0 L1332.9,158.1 L1341.5,158.1 L1350.1,158.2 L1358.7,158.2 L1367.2,158.3 L1375.8,158.3 L1384.4,158.4 L1393.0,158.5 L1401.6,158.6 L1410.2,158.7 L1418.8,158.8 L1427.3,159.0 L1435.9,159.1 L1444.5,159.3 L1453.1,159.4 L1461.7,159.6 L1470.3,159.9 L1478.9,160.1 L1487.5,160.4 L1496.0,160.7 L1504.6,161.1 L1513.2,161.4 L1521.8,161.9 L1530.4,162.3 L1539.0,162.9 L1547.6,163.4 L1556.1,164.1 L1564.7,164.8 L1573.3,165.6 L1581.9,166.5 L1590.5,167.5 L1599.1,168.6 L1607.7,169.8 L1616.3,171.1 L1624.8,172.6 L1633.4,174.2 L1642.0,176.0 L1650.6,178.0 L1659.2,180.2 L1667.8,182.6 L1676.4,185.2 L1684.9,188.1 L1693.5,191.2 L1702.1,194.6 L1710.7,198.4 L1719.3,202.5 L1727.9,206.9 L1736.5,211.6 L1745.1,216.8 L1753.6,222.3 L1762.2,228.2 L1770.8,234.5 L1779.4,241.2 L1788.0,248.3 L1796.6,255.8 L1805.2,263.6 L1813.7,271.8 L1822.3,280.3 L1830.9,289.1 L1839.5,298.2 L1848.1,307.5 L1856.7,316.9 L1865.3,326.5 L1873.8,336.1 L1882.4,345.8 L1891.0,355.4 L1899.6,364.9 L1908.2,374.2 L1916.8,383.4 L1925.4,392.3 L1934.0,401.0 L1942.5,409.4 L1951.1,417.5 L1959.7,425.2 L1968.3,432.6" fill="none" stroke="#FFA500" stroke-width="7.2" stroke-linecap="round" stroke-linejoin="round"/>
<rect x="1442.1" y="12.4" width="540.6" height="72.6" fill="#fff" stroke="#000" stroke-width="1.7"/>
<text transform="translate(1712.4 36.8) scale(1 1.04)" font-size="19" text-anchor="middle">Season</text>
<path d="M1446.5,60.8 L1484.5,60.8" stroke="#000" stroke-width="1.85" fill="none" stroke-dasharray="7.40 7.40"/>
<text transform="translate(1502.2 67.8) scale(1 1.04)" font-size="19">Winter</text>
<path d="M1579.3,60.8 L1617.3,60.8" stroke="#000" stroke-width="1.85" fill="none" stroke-dasharray="1.85 5.55"/>
<text transform="translate(1635.2 67.8) scale(1 1.04)" font-size="19">Spring</text>
<path d="M1712.2,60.8 L1750.2,60.8" stroke="#000" stroke-width="1.85" fill="none" stroke-dasharray="1.85 5.55 7.40 5.55"/>
<text transform="translate(1768.2 67.8) scale(1 1.04)" font-size="19">Summer</text>
<path d="M1845.1,60.8 L1883.1,60.8" stroke="#000" stroke-width="1.85" fill="none"/>
<text transform="translate(1901.0 67.8) scale(1 1.04)" font-size="19">Autumn</text>
<circle cx="1465.5" cy="60.8" r="5.5" fill="#000"/>
<rect x="1594.2" y="56.7" width="8.2" height="8.2" fill="#fff" stroke="#000" stroke-width="1.85"/>
<polygon points="1731.2,54.2 1737.4,64.7 1725.0,64.7" fill="#000"/>
<polygon points="1859.8,60.8 1864.1,55.7 1868.4,60.8 1864.1,65.9" fill="#000"/>
<rect x="1190.2" y="465.5" width="494.0" height="72.7" fill="#fff" stroke="#000" stroke-width="1.5"/>
<text transform="translate(1320.3 485.0) scale(1 1.04)" font-size="19">Seawater temperature</text>
<text x="1514.4" y="485.7" font-size="25.75">(</text>
<text transform="translate(1523.7 485.0) scale(1 1.04)" font-size="19">°</text>
<text transform="translate(1531.2 485.0) scale(1 1.04)" font-size="19">C</text>
<text x="1547.3" y="485.7" font-size="25.75">)</text>
<rect x="1208.0" y="507.9" width="15.2" height="12.4" fill="#0000FF" stroke="#000" stroke-width="1.4"/>
<text transform="translate(1241.6 521.0) scale(1 1.04)" font-size="19">&lt;26</text>
<rect x="1329.2" y="507.9" width="15.2" height="12.4" fill="#EEEE00" stroke="#000" stroke-width="1.4"/>
<text transform="translate(1361.4 521.0) scale(1 1.04)" font-size="19" letter-spacing="0.4">26−28.5</text>
<rect x="1450.4" y="507.9" width="15.2" height="12.4" fill="#FFA500" stroke="#000" stroke-width="1.4"/>
<text transform="translate(1484.0 521.0) scale(1 1.04)" font-size="19">28.5−31</text>
<rect x="1571.5" y="507.9" width="15.2" height="12.4" fill="#FF0000" stroke="#000" stroke-width="1.4"/>
<text transform="translate(1605.1 521.0) scale(1 1.04)" font-size="19">&gt;31</text>
</g>
</svg></body></html>
